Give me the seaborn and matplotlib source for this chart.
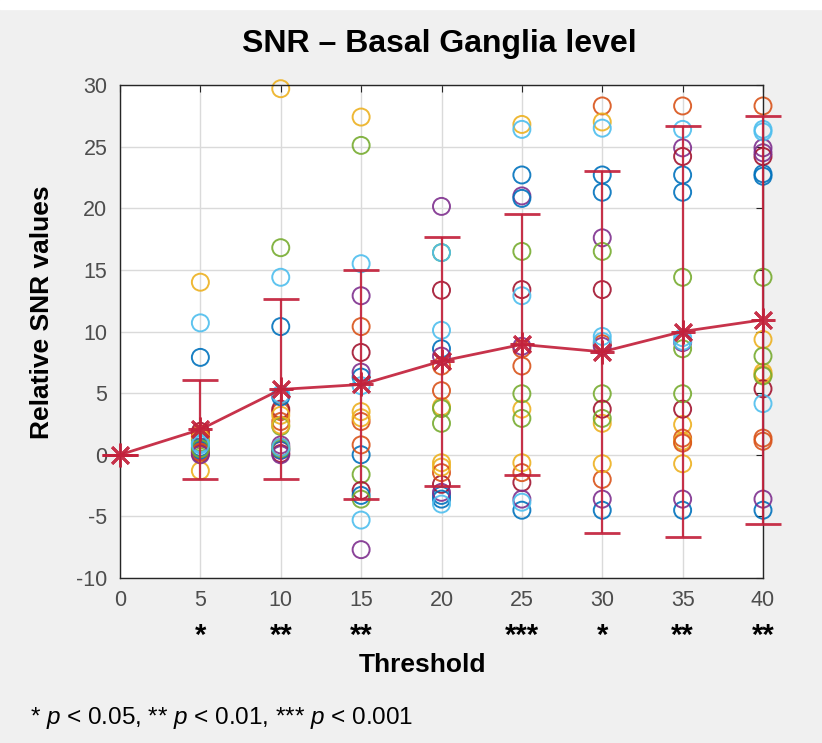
import matplotlib
matplotlib.use("Agg")
import matplotlib.pyplot as plt
import matplotlib.transforms as mtransforms
from matplotlib.patches import Rectangle
import pandas as pd
import seaborn as sns

thresholds = [5, 10, 15, 20, 25, 30, 35, 40]

# one row per subject (20 subjects), colours follow MATLAB's default line order
snr = [
    [7.9, 10.4, 6.3, 8.6, 22.7, 22.7, 22.7, 22.8],
    [1.7, 3.5, 10.4, 7.2, 8.6, 28.3, 28.3, 28.3],
    [14.0, 29.7, 27.4, 3.9, 26.8, 27.0, 2.45, 9.35],
    [0.3, 0.8, 12.9, 20.15, 21.0, 17.6, 24.9, 24.9],
    [1.2, 16.8, 25.1, 16.4, 16.5, 16.5, 14.4, 14.4],
    [10.7, 14.4, 15.5, 16.4, 26.4, 26.5, 26.4, 26.4],
    [1.9, 3.7, 8.3, 13.35, 13.4, 13.4, 24.2, 24.2],
    [0.6, 4.7, 0.0, -3.3, 20.8, 21.3, 21.3, 22.6],
    [1.5, 2.7, 2.7, 5.2, 7.2, 9.0, 1.35, 1.35],
    [1.3, 3.2, 3.5, -0.65, 3.7, 2.55, 1.1, 6.7],
    [0.2, 0.35, 6.7, 8.0, 8.8, 8.8, 9.1, 24.5],
    [1.0, 2.3, -1.6, 3.75, 4.95, 4.95, 8.6, 8.0],
    [0.9, 4.9, 5.6, 10.1, 12.9, 9.6, 9.5, 26.2],
    [0.1, 0.1, -2.9, -2.4, -2.25, 3.7, 3.7, 5.35],
    [0.4, 0.4, -3.3, -3.6, -4.5, -4.5, -4.5, -4.5],
    [0.2, 0.6, 0.8, -1.45, -1.45, -2.0, 0.95, 1.1],
    [-1.3, 2.4, 3.0, -1.0, -0.65, -0.73, -0.73, 6.5],
    [0.0, 0.0, -7.7, -3.05, -3.6, -3.6, -3.6, -3.6],
    [0.5, 0.5, -3.6, 2.55, 2.95, 2.95, 4.95, 6.4],
    [0.8, 0.6, -5.3, -4.0, -3.85, 9.2, 9.2, 4.15],
]
matlab_colors = ["#0072BD", "#D95319", "#EDB120", "#7E2F8E",
                 "#77AC30", "#4DBEEE", "#A2142F"]

mean_x = [0, 5, 10, 15, 20, 25, 30, 35, 40]
mean_snr = [0, 2.05, 5.3, 5.7, 7.6, 8.95, 8.35, 10.0, 10.95]
sd_snr = [0, 4.0, 7.3, 9.25, 10.1, 10.6, 14.7, 16.7, 16.55]
signif = ["", "*", "**", "**", "", "***", "*", "**", "**"]

rows = []
for i, vals in enumerate(snr):
    for t, v in zip(thresholds, vals):
        rows.append({"threshold": t, "value": v, "colour": matlab_colors[i % 7]})
df = pd.DataFrame(rows)

sns.set_style("whitegrid")
plt.rcParams["font.family"] = ["Liberation Sans", "DejaVu Sans"]
plt.rcParams["axes.unicode_minus"] = False
plt.rcParams["mathtext.fontset"] = "custom"
plt.rcParams["mathtext.it"] = "Liberation Sans:italic"
plt.rcParams["mathtext.rm"] = "Liberation Sans"

fig = plt.figure(figsize=(8.22, 7.43), dpi=100, facecolor="#f0f0f0")
fig.patches.append(Rectangle((0, 1 - 9 / 743), 1, 9 / 743, transform=fig.transFigure,
                             color="white", zorder=0))
ax = fig.add_axes([120 / 822, 165 / 743, 643 / 822, 493 / 743])
ax.set_facecolor("white")

sns.scatterplot(data=df, x="threshold", y="value", hue="colour",
                palette={c: c for c in matlab_colors}, s=150, linewidth=1.4,
                legend=False, ax=ax, zorder=2, clip_on=False)
pts = ax.collections[-1]
pts.set_edgecolors(pts.get_facecolors())
pts.set_facecolors("none")
pts.set_alpha(0.9)

ax.errorbar(mean_x, mean_snr, yerr=sd_snr, color="#C3213B", lw=2,
            marker=(8, 2, 0), ms=17, mew=2, capsize=13, capthick=1.8,
            elinewidth=1.6, zorder=3, clip_on=False, alpha=0.92)

ax.set_xlim(0, 40)
ax.set_ylim(-10, 30)
ax.set_xticks(range(0, 41, 5))
ax.set_yticks(range(-10, 31, 5))
ax.grid(True, color="#dadada", lw=1)
ax.tick_params(direction="in", top=True, right=True, length=5, width=0.8,
               labelsize=15.5, labelcolor="#4d4d4d", color="#262626", pad=9)
for s in ax.spines.values():
    s.set_color("#262626")
    s.set_linewidth(1)

trans = mtransforms.blended_transform_factory(ax.transData, ax.transAxes)
for x, star in zip(mean_x, signif):
    ax.text(x, -0.118, star, transform=trans, ha="center", va="center",
            fontsize=21, fontweight="bold", color="black")

ax.set_xlabel("Threshold", fontsize=19, fontweight="bold", color="black")
ax.xaxis.label.set_va("center")
ax.xaxis.set_label_coords(0.47, -0.176)
ax.set_ylabel("Relative SNR values", fontsize=19, fontweight="bold", color="black")
ax.yaxis.label.set_va("center")
ax.yaxis.set_label_coords(-0.121, 0.54)

fig.text(439 / 822, 1 - 44 / 743, "SNR \u2013 Basal Ganglia level",
         ha="center", va="center", fontsize=23, fontweight="bold", color="black")
fig.text(30 / 822, 1 - 718 / 743,
         r"* $\mathit{p}$ < 0.05, ** $\mathit{p}$ < 0.01, *** $\mathit{p}$ < 0.001",
         ha="left", va="center", fontsize=17.5, color="black")

fig.savefig("out.png", dpi=100, facecolor=fig.get_facecolor())
